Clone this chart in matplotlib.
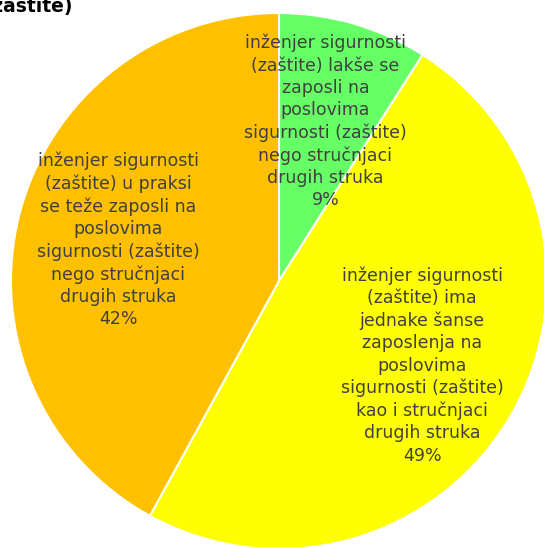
import matplotlib.pyplot as plt

# slices (clockwise from 12 o'clock)
categories = [
    "inženjer sigurnosti\n(zaštite) lakše se\nzaposli na\nposlovima\nsigurnosti (zaštite)\nnego stručnjaci\ndrugih struka",
    "inženjer sigurnosti\n(zaštite) ima\njednake šanse\nzaposlenja na\nposlovima\nsigurnosti (zaštite)\nkao i stručnjaci\ndrugih struka",
    "inženjer sigurnosti\n(zaštite) u praksi\nse teže zaposli na\nposlovima\nsigurnosti (zaštite)\nnego stručnjaci\ndrugih struka",
]
values = [9, 49, 42]
colors = ["#66FF66", "#FFFF00", "#FFC000"]
title = "Mišljenje o zapošljavanju inženjera sigurnosti (zaštite)"

plt.rcParams['font.family'] = ['DejaVu Sans']

W, H = 544, 547
fig = plt.figure(figsize=(W / 100, H / 100), dpi=100)
ax = fig.add_axes([0, 0, 1, 1])

labels = [f"{c}\n{v}%" for c, v in zip(categories, values)]
wedges, texts = ax.pie(values, labels=labels, colors=colors, startangle=90,
                       counterclock=False, center=(279, H - 281), radius=268,
                       labeldistance=0.62,
                       wedgeprops=dict(edgecolor='white', linewidth=1.5))
for t in texts:
    t.set_horizontalalignment('center')
    t.set_verticalalignment('center')
    t.set_multialignment('center')
    t.set_color('#404040')
    t.set_fontsize(12.5)
    t.set_linespacing(1.3)

ax.set_xlim(0, W)
ax.set_ylim(0, H)
ax.set_aspect('equal')
ax.axis('off')

fig.text(72 / W, 1 - 12 / H, title, ha='right', va='baseline',
         fontsize=13.5, fontweight='bold', color='black')

fig.savefig('out.png', dpi=100)
